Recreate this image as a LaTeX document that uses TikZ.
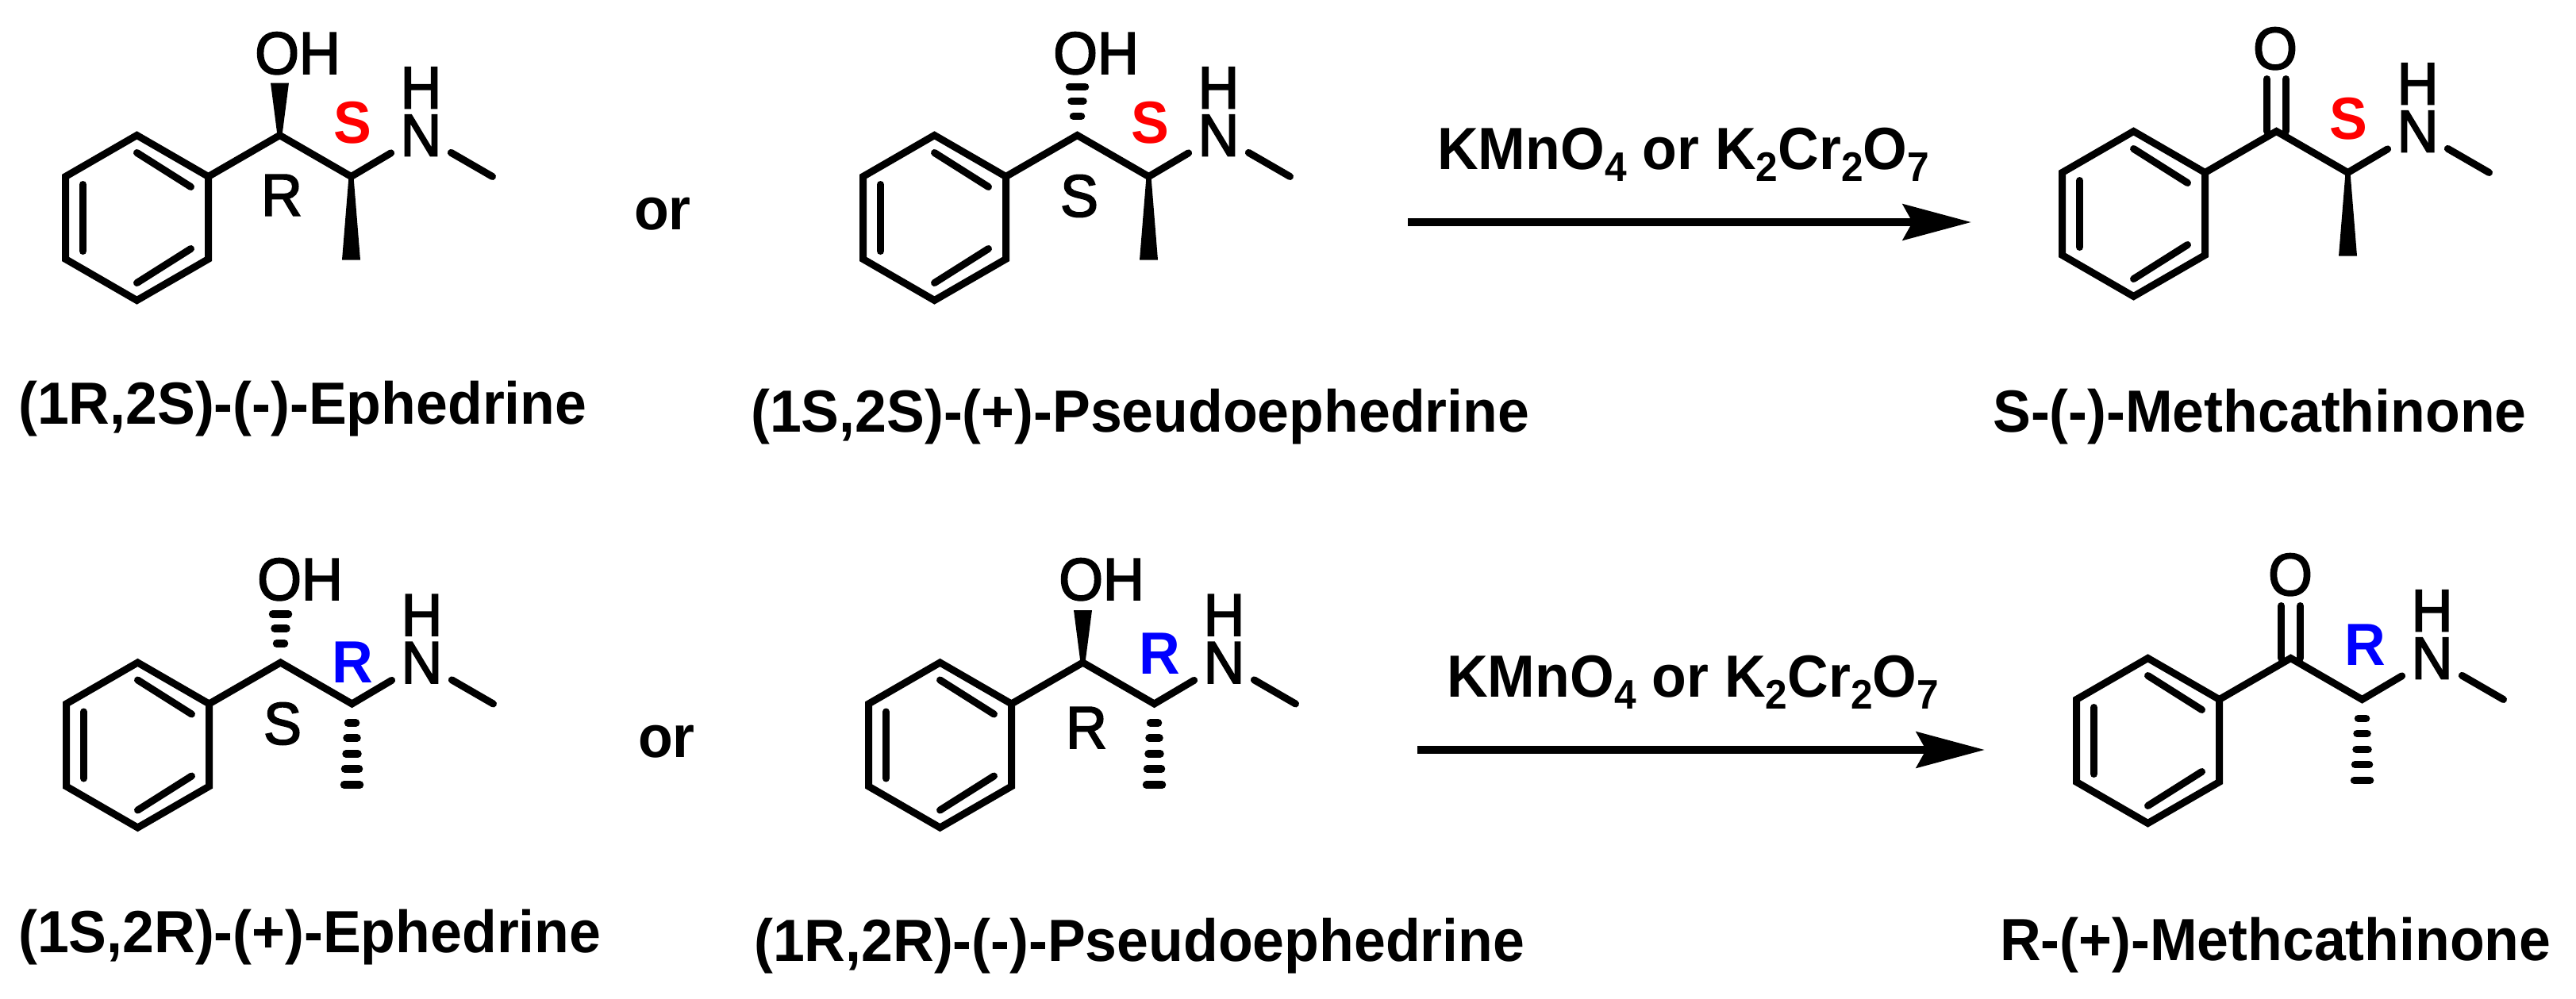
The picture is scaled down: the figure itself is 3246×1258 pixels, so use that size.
\documentclass[tikz,border=0pt]{standalone}
\usepackage{fontspec}
\setmainfont[FakeStretch=0.955]{Liberation Sans}
\newfontfamily\atomfont[FakeStretch=0.955,FakeBold=2.5]{Liberation Sans}
\usetikzlibrary{arrows.meta}

\newcommand{\subnum}[1]{\raisebox{-15pt}{\fontsize{52}{52}\selectfont #1}}

\tikzset{
  bond/.style={line width=9pt,line cap=round,line join=miter},
  hashline/.style={line width=9.5pt,line cap=round},
  atom/.style={font=\atomfont\fontsize{75}{80}\selectfont,inner xsep=12pt,inner ysep=3pt,
    text height=52pt,text depth=0pt,outer sep=0pt},
  stereo/.style={font=\atomfont\fontsize{75}{80}\selectfont,inner sep=0pt},
  stereob/.style={font=\bfseries\fontsize{75}{80}\selectfont,inner sep=0pt},
  caption/.style={font=\bfseries\fontsize{75}{80}\selectfont,inner sep=0pt,anchor=base west},
  rxn/.style={line width=10pt,-{Stealth[length=86pt,width=45pt,inset=12pt]}}
}

% ring, side chain and NH-CH3, #1 = prefix, (#2,#3) = ring centre
\newcommand{\molbase}[3]{
  \begin{scope}[shift={(#2,#3)}]
    \coordinate (#1a) at (0,-104);
    \coordinate (#1b) at (90,-52);
    \coordinate (#1c) at (90,52);
    \coordinate (#1d) at (0,104);
    \coordinate (#1e) at (-90,52);
    \coordinate (#1f) at (-90,-52);
    \coordinate (#1c1) at (180,-104);
    \coordinate (#1c2) at (270,-52);
    \coordinate (#1up) at (180,-170);
    \coordinate (#1dn) at (270,53);
    \coordinate (#1me) at (448,-52);
    \node[atom] (#1n) at (358,-104) {N};
    \node[atom] (#1h) at (358,-164) {H};
    \draw[bond] (#1a) -- (#1b) -- (#1c) -- (#1d) -- (#1e) -- (#1f) -- cycle;
    \draw[bond] (0,-82) -- (68,-39);
    \draw[bond] (68,39) -- (0,82);
    \draw[bond] (-68,42) -- (-68,-42);
    \draw[bond] (#1b) -- (#1c1) -- (#1c2) -- (#1n);
    \draw[bond] (#1n) -- (#1me);
  \end{scope}
}
\newcommand{\wedgeup}[1]{\fill ([xshift=-3pt]#1c1) -- ([xshift=-11.5pt]#1up) -- ([xshift=11.5pt]#1up) -- ([xshift=3pt]#1c1) -- cycle;}
\newcommand{\wedgedn}[1]{\fill ([xshift=-3pt]#1c2) -- ([xshift=-11.5pt]#1dn) -- ([xshift=11.5pt]#1dn) -- ([xshift=3pt]#1c2) -- cycle;}
\newcommand{\hashup}[1]{\foreach \d/\w in {24/5,43/7.5,61/10}
  {\draw[hashline] ([shift={(-\w,-\d)}]#1c1) -- ([shift={(\w,-\d)}]#1c1);}}
\newcommand{\hashdn}[1]{\foreach \d/\w in {24/5,43/6.5,63/7.5,82/9,102/10}
  {\draw[hashline] ([shift={(-\w,\d)}]#1c2) -- ([shift={(\w,\d)}]#1c2);}}
\newcommand{\ketone}[1]{
  \draw[bond] ([xshift=-12pt]#1up) -- ([xshift=-12pt]#1c1);
  \draw[bond] ([xshift=12pt]#1up) -- ([xshift=12pt]#1c1);}

\begin{document}
\begin{tikzpicture}[x=1pt,y=-1pt]
  \useasboundingbox (0,0) rectangle (3246,1258);

  % top row
  \molbase{ma}{172.5}{274.5}
  \wedgeup{ma}
  \wedgedn{ma}
  \node[atom] (maoh) at (375,67) {OH};
  \node[stereo] (mar) at (355,246) {R};
  \node[stereob,text=red] (mas) at (444,155) {S};
  \node[caption] (maname) at (23,534) {(1R,2S)-(-)-Ephedrine};
  \node[caption] (ora) at (799,289) {or};

  \molbase{mb}{1177.5}{274.5}
  \hashup{mb}
  \wedgedn{mb}
  \node[atom] (mboh) at (1381,67) {OH};
  \node[stereo] (mbr) at (1360,247) {S};
  \node[stereob,text=red] (mbs) at (1449,155) {S};
  \node[caption] (mbname) at (946,544) {(1S,2S)-(+)-Pseudoephedrine};

  \coordinate (arastart) at (1774,280);
  \coordinate (araend) at (2484,280);
  \draw[rxn] (arastart) -- (araend);
  \node[caption] (aratext) at (1811,213) {KMnO\subnum{4} or K\subnum{2}Cr\subnum{2}O\subnum{7}};

  \molbase{mc}{2688.5}{269.5}
  \ketone{mc}
  \wedgedn{mc}
  \node[atom] (mco) at (2867,61) {O};
  \node[stereob,text=red] (mcs) at (2959,150) {S};
  \node[caption] (mcname) at (2511,544) {S-(-)-Methcathinone};

  % bottom row
  \molbase{md}{173.5}{939}
  \hashup{md}
  \hashdn{md}
  \node[atom] (mdoh) at (378,730) {OH};
  \node[stereo] (mdr) at (356,912) {S};
  \node[stereob,text=blue] (mds) at (444,835) {R};
  \node[caption] (mdname) at (23,1200) {(1S,2R)-(+)-Ephedrine};
  \node[caption] (orb) at (804,954) {or};

  \molbase{me}{1184.5}{939}
  \wedgeup{me}
  \hashdn{me}
  \node[atom] (meoh) at (1388,730) {OH};
  \node[stereo] (mer) at (1369,917) {R};
  \node[stereob,text=blue] (mes) at (1461.5,824) {R};
  \node[caption] (mename) at (950,1211) {(1R,2R)-(-)-Pseudoephedrine};

  \coordinate (arbstart) at (1786,945);
  \coordinate (arbend) at (2501,945);
  \draw[rxn] (arbstart) -- (arbend);
  \node[caption] (arbtext) at (1823,878) {KMnO\subnum{4} or K\subnum{2}Cr\subnum{2}O\subnum{7}};

  \molbase{mf}{2706.5}{933.5}
  \ketone{mf}
  \hashdn{mf}
  \node[atom] (mfo) at (2886,724) {O};
  \node[stereob,text=blue] (mfs) at (2980,813) {R};
  \node[caption] (mfname) at (2520,1210) {R-(+)-Methcathinone};
\end{tikzpicture}
\end{document}
